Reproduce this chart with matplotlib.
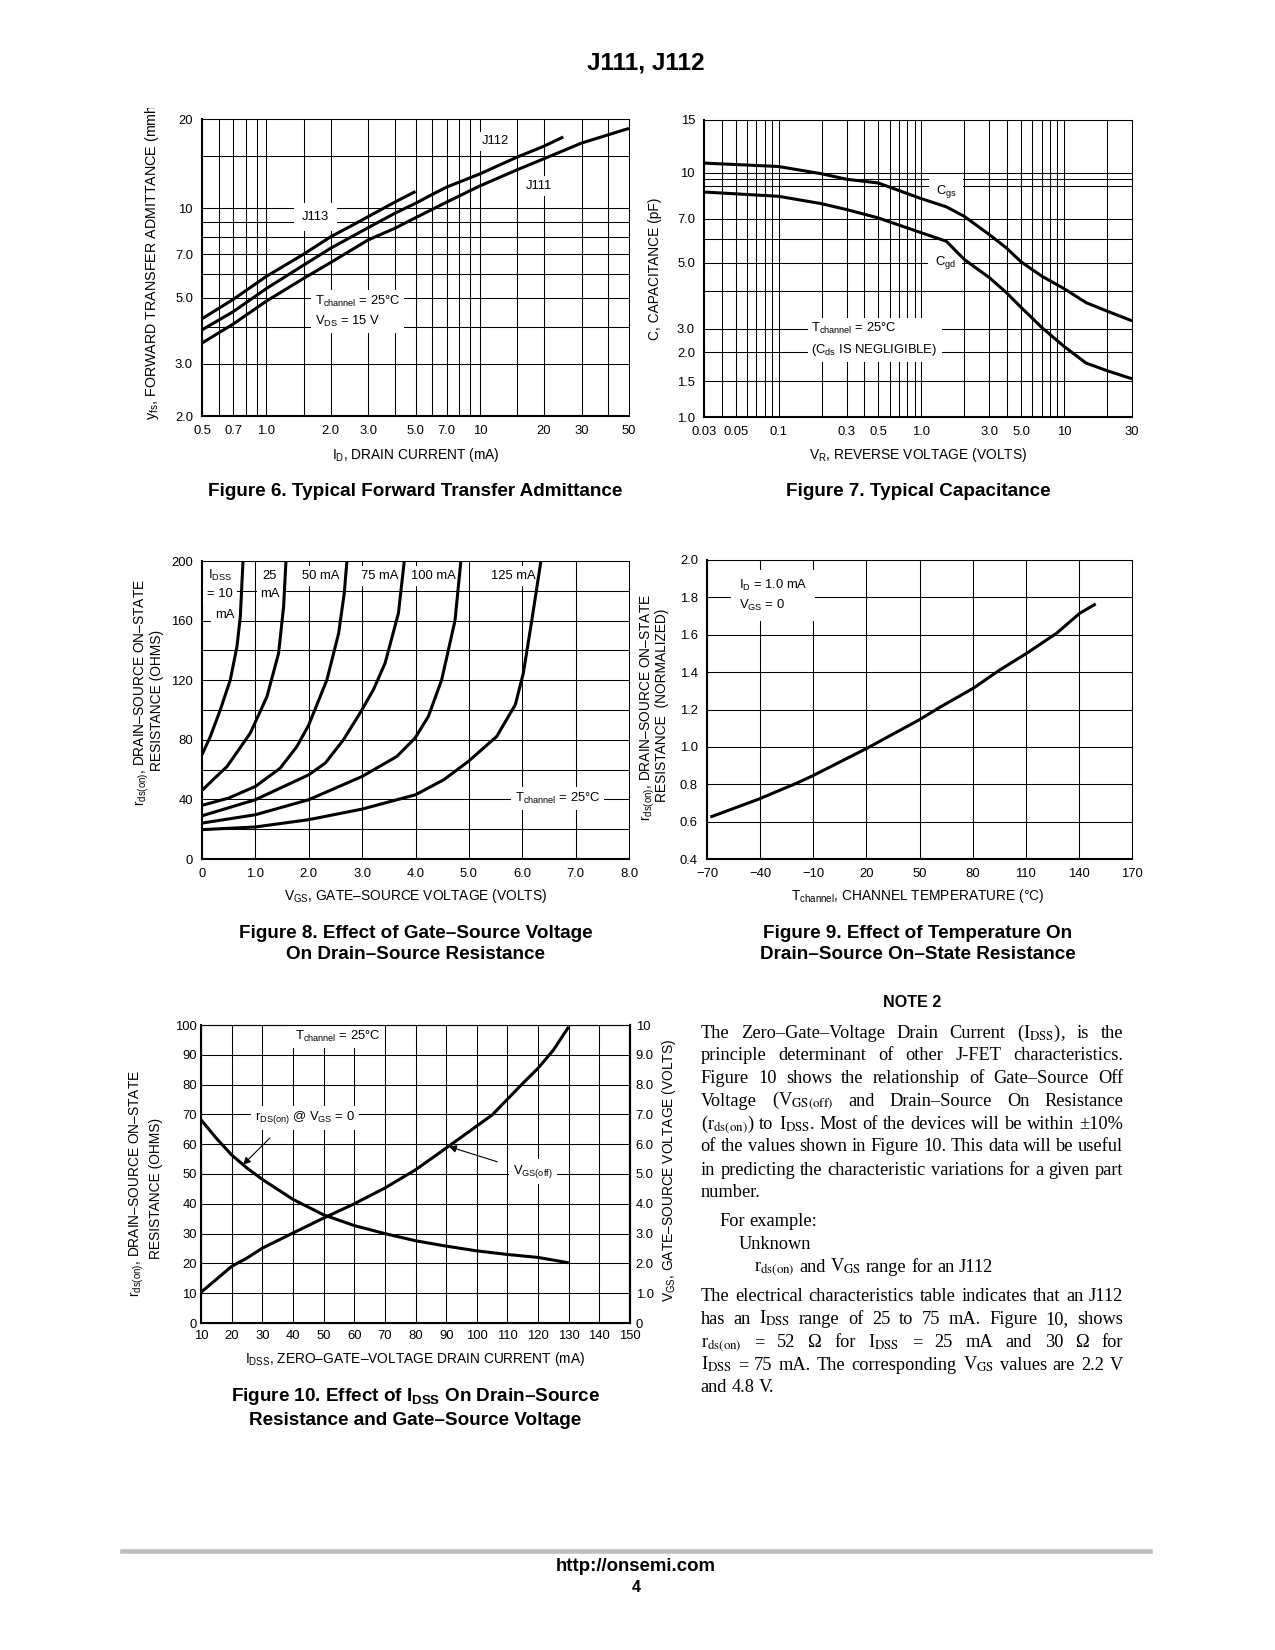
import numpy as np
import matplotlib
matplotlib.use("Agg")
import matplotlib.pyplot as plt
from matplotlib.lines import Line2D
from matplotlib.transforms import Bbox

W, H = 1275, 1650

plt.rcParams['font.family'] = ['Liberation Sans', 'DejaVu Sans']
plt.rcParams['mathtext.fontset'] = 'custom'
plt.rcParams['mathtext.rm'] = 'Liberation Sans'
plt.rcParams['mathtext.it'] = 'Liberation Sans:italic'
plt.rcParams['mathtext.bf'] = 'Liberation Sans:bold'

# Figura 6: yfs vs ID
id_j113 = [0.5, 0.7, 1.0, 1.5, 2.0, 2.55, 3.0, 4.0, 5.0]
yfs_j113 = [4.25, 4.94, 5.9, 7.02, 8.02, 8.8, 9.38, 10.5, 11.4]
id_j112 = [0.5, 0.7, 1.0, 1.5, 2.0, 3.0, 4.0, 5.0, 6.0, 7.0, 10, 15, 20, 24.6]
yfs_j112 = [3.9, 4.49, 5.37, 6.45, 7.34, 8.61, 9.63, 10.4, 11.15, 11.8, 13.06, 14.9, 16.2, 17.4]
id_j111 = [0.5, 0.7, 1.0, 1.5, 2.0, 3.0, 4.0, 5.0, 7.0, 10, 15, 20, 30, 50]
yfs_j111 = [3.52, 4.08, 4.87, 5.82, 6.57, 7.83, 8.57, 9.3, 10.5, 11.9, 13.5, 14.7, 16.6, 18.6]

# Figura 7: capacidad vs VR
vr_gs = [0.03, 0.1, 0.2, 0.3, 0.5, 1.0, 1.5, 2.0, 3.0, 3.94, 5.0, 7.0, 10, 14.3, 20, 30]
c_gs = [10.76, 10.48, 9.91, 9.5, 9.23, 8.18, 7.68, 7.14, 6.2, 5.6, 5.03, 4.5, 4.09, 3.67, 3.44, 3.19]
vr_gd = [0.03, 0.1, 0.2, 0.3, 0.5, 1.0, 1.5, 2.0, 3.0, 3.94, 5.0, 7.0, 10, 14.3, 20, 30]
c_gd = [8.61, 8.33, 7.87, 7.52, 7.05, 6.29, 5.89, 5.12, 4.45, 3.97, 3.54, 3.03, 2.22, 1.80, 1.67, 1.54]

# Figura 8: rds(on) vs VGS para cada IDSS
vgs_10 = [0, 0.156, 0.343, 0.53, 0.655, 0.718, 0.768]
rds_10 = [70, 82.2, 100.1, 120.2, 142.6, 162.7, 200]
vgs_25 = [0, 0.218, 0.47, 0.905, 1.217, 1.435, 1.529, 1.573]
rds_25 = [46, 53.6, 62.1, 84.5, 109, 138.1, 169.4, 200]
vgs_50 = [0, 0.5, 1.0, 1.466, 1.778, 2.0, 2.34, 2.56, 2.665, 2.715]
rds_50 = [36, 40.9, 48.7, 61, 75.5, 90, 120.2, 151.5, 178.3, 200]
vgs_75 = [0, 1.0, 2.0, 2.31, 2.65, 2.96, 3.21, 3.43, 3.68, 3.79]
rds_75 = [29, 39.8, 56.5, 64.4, 80, 97.9, 113.5, 131.4, 164.9, 200]
vgs_100 = [0, 1.0, 2.0, 3.0, 3.65, 3.99, 4.24, 4.49, 4.74, 4.85]
rds_100 = [24.1, 29.7, 39.8, 55.4, 68.8, 81.1, 95.6, 120.2, 160, 200]
vgs_125 = [0, 1.0, 2.0, 3.0, 4.0, 4.53, 4.99, 5.52, 5.87, 6.02, 6.18, 6.35]
rds_125 = [19.7, 21.5, 26.4, 33.5, 43.1, 53.2, 65.5, 82.2, 103.5, 124.7, 160.4, 200]

# Figura 9: rds normalizada vs temperatura
temp = [-68.1, -40.9, -19.3, -10.4, 19.8, 49.9, 60.6, 80.4, 95.4, 110.4, 127.4, 140.5, 149.5]
rds_norm = [0.6245, 0.72, 0.806, 0.845, 0.99, 1.145, 1.207, 1.314, 1.412, 1.50, 1.608, 1.715, 1.765]

# Figura 10: rds y VGS(off) vs IDSS
idss_r = [10, 15, 20, 25, 30, 40, 50, 60, 70, 80, 90, 100, 110, 120, 130]
rds_idss = [68.2, 62, 56.4, 52, 48.2, 41.5, 36.3, 32.7, 30.0, 27.6, 25.8, 24.2, 23, 22, 20.2]
idss_v = [10, 20, 25, 30, 40, 50, 60, 70, 80, 90, 100, 105, 110, 115, 120, 125, 130]
vgs_off = [1.03, 1.90, 2.18, 2.51, 3.02, 3.52, 4.0, 4.53, 5.14, 5.87, 6.61, 6.98, 7.51, 8.04, 8.55, 9.16, 9.94]

fig = plt.figure(figsize=(W / 100, H / 100), dpi=100)

TICK = 9.4
LAB = 9.9
CAP = 13.6
LW = 2.2
BOX = dict(boxstyle='square,pad=0.3', fc='white', ec='none')


def ejes(l, t, r, b):
    ax = fig.add_axes([l / W, 1 - b / H, (r - l) / W, (b - t) / H])
    for s in ['top', 'right']:
        ax.spines[s].set_linewidth(0.75)
    for s in ['left', 'bottom']:
        ax.spines[s].set_linewidth(1.5)
    ax.tick_params(which='both', length=0, pad=6.5, labelsize=TICK)
    return ax


def grilla(ax):
    ax.grid(True, which='both', color='k', lw=0.75)


def curva(ax, xs, ys):
    ax.plot(xs, ys, 'k', lw=LW, solid_joinstyle='round', solid_capstyle='butt', zorder=4)


def ftext(x, y, s, **kw):
    return fig.text(x / W, 1 - y / H, s, **kw)


# ------- Figura 6 -------
ax6 = ejes(202, 119, 629, 416)
ax6.set_xscale('log')
ax6.set_yscale('log')
ax6.set_xlim(0.5, 50)
ax6.set_ylim(2, 20)
ax6.set_xticks([0.5, 0.7, 1, 2, 3, 5, 7, 10, 20, 30, 50],
               ['0.5', '0.7', '1.0', '2.0', '3.0', '5.0', '7.0', '10', '20', '30', '50'])
ax6.set_xticks([0.6, 0.8, 0.9, 1.5, 4, 6, 8, 9, 15, 40], minor=True)
ax6.set_yticks([2, 3, 5, 7, 10, 20], ['2.0', '3.0', '5.0', '7.0', '10', '20'])
ax6.set_yticks([4, 6, 8, 9, 15], minor=True)
ax6.xaxis.set_minor_formatter(plt.NullFormatter())
ax6.yaxis.set_minor_formatter(plt.NullFormatter())
grilla(ax6)
curva(ax6, id_j113, yfs_j113)
curva(ax6, id_j112, yfs_j112)
curva(ax6, id_j111, yfs_j111)
ax6.text(11.8, 16.8, 'J112', ha='center', va='center', fontsize=TICK, bbox=BOX)
ax6.text(18.9, 11.9, 'J111', ha='center', va='center', fontsize=TICK, bbox=BOX)
ax6.text(1.70, 9.37, 'J113', ha='center', va='center', fontsize=TICK,
         bbox=dict(boxstyle='square,pad=0.6', fc='white', ec='none'))
ax6.text(1.69, 4.5, 'T$_{\\mathrm{channel}}$ = 25°C\nV$_{\\mathrm{DS}}$ = 15 V', ha='left', va='center',
         fontsize=TICK, linespacing=1.5, bbox=BOX)
yl = ftext(152, 420, 'y$_{\\mathrm{fs}}$, FORWARD TRANSFER ADMITTANCE (mmhos)', rotation=90,
           ha='center', va='bottom', fontsize=10.3)
yl.set_clip_box(Bbox.from_extents(0, 0, W, H - 108))
yl.set_clip_on(True)
ftext(415.5, 455.5, 'I$_{\\mathrm{D}}$, DRAIN CURRENT (mA)', ha='center', va='center', fontsize=LAB)
ftext(415.5, 492, 'Figure 6. Typical Forward Transfer Admittance', ha='center', va='center',
      fontsize=CAP, fontweight='bold')

# ------- Figura 7 -------
# eje vertical del original: logaritmico arriba, comprimido por debajo de 3.0
LOGV = np.log10([1.0, 1.5, 2.0, 3.0, 15.0])
POS = -np.array([417.3, 381.7, 352.7, 329.0, 120.0])


def fwd(v):
    return np.interp(np.log10(np.clip(v, 1e-3, None)), LOGV, POS)


def inv(p):
    return 10 ** np.interp(p, POS, LOGV)


ax7 = ejes(704, 120, 1132, 417)
ax7.set_xscale('log')
ax7.set_yscale('function', functions=(fwd, inv))
ax7.set_xlim(0.03, 30)
ax7.set_ylim(1, 15)
ax7.set_xticks([0.03, 0.05, 0.1, 0.3, 0.5, 1, 3, 5, 10, 30],
               ['0.03', '0.05', '0.1', '0.3', '0.5', '1.0', '3.0', '5.0', '10', '30'])
ax7.set_xticks([0.04, 0.06, 0.07, 0.08, 0.09, 0.2, 0.4, 0.6, 0.7, 0.8, 0.9,
                2, 4, 6, 7, 8, 9, 20], minor=True)
ax7.set_yticks([1, 1.5, 2, 3, 5, 7, 10, 15], ['1.0', '1.5', '2.0', '3.0', '5.0', '7.0', '10', '15'])
ax7.set_yticks([4, 6, 9, 9.5], minor=True)
ax7.xaxis.set_minor_formatter(plt.NullFormatter())
ax7.yaxis.set_minor_formatter(plt.NullFormatter())
grilla(ax7)
curva(ax7, vr_gs, c_gs)
curva(ax7, vr_gd, c_gd)
ax7.text(1.5, 8.66, 'C$_{\\mathrm{gs}}$', ha='center', va='center', fontsize=TICK,
         bbox=dict(boxstyle='square,pad=0.5', fc='white', ec='none'))
ax7.text(1.47, 4.99, 'C$_{\\mathrm{gd}}$', ha='center', va='center', fontsize=TICK,
         bbox=dict(boxstyle='square,pad=0.5', fc='white', ec='none'))
ax7.text(0.17, 2.5, 'T$_{\\mathrm{channel}}$ = 25°C\n(C$_{\\mathrm{ds}}$ IS NEGLIGIBLE)', ha='left',
         va='center', fontsize=TICK, linespacing=1.5, bbox=BOX)
ftext(655, 269, 'C, CAPACITANCE (pF)', rotation=90, ha='center', va='center', fontsize=LAB)
ftext(918, 455.5, 'V$_{\\mathrm{R}}$, REVERSE VOLTAGE (VOLTS)', ha='center', va='center', fontsize=LAB)
ftext(918, 492, 'Figure 7. Typical Capacitance', ha='center', va='center',
      fontsize=CAP, fontweight='bold')

# ------- Figura 8 -------
ax8 = ejes(202, 561, 629, 859)
ax8.set_xlim(0, 8)
ax8.set_ylim(0, 200)
ax8.set_xticks(np.arange(0, 9), ['0', '1.0', '2.0', '3.0', '4.0', '5.0', '6.0', '7.0', '8.0'])
ax8.set_yticks(np.arange(0, 201, 20), ['0', '', '40', '', '80', '', '120', '', '160', '', '200'])
grilla(ax8)
for xs, ys in [(vgs_10, rds_10), (vgs_25, rds_25), (vgs_50, rds_50),
               (vgs_75, rds_75), (vgs_100, rds_100), (vgs_125, rds_125)]:
    curva(ax8, xs, ys)
kw8 = dict(fontsize=TICK, va='center', bbox=BOX)
ax8.text(0.12, 190, 'I$_{\\mathrm{DSS}}$', ha='left', **kw8)
ax8.text(0.10, 177.7, '= 10', ha='left', **kw8)
ax8.text(0.24, 163.8, 'mA', ha='left', **kw8)
ax8.text(1.27, 190, '25', ha='center', **kw8)
ax8.text(1.28, 177.7, 'mA', ha='center', **kw8)
ax8.text(2.23, 190, '50 mA', ha='center', **kw8)
ax8.text(3.33, 190, '75 mA', ha='center', **kw8)
ax8.text(4.34, 190, '100 mA', ha='center', **kw8)
ax8.text(5.84, 190, '125 mA', ha='center', **kw8)
ax8.text(6.66, 40.9, 'T$_{\\mathrm{channel}}$ = 25°C', ha='center', **kw8)
ftext(142, 692, 'r$_{\\mathrm{ds(on)}}$, DRAIN–SOURCE ON–STATE', rotation=90, ha='center', va='center',
      fontsize=LAB)
ftext(157, 700, 'RESISTANCE (OHMS)', rotation=90, ha='center', va='center', fontsize=LAB)
ftext(415.5, 896, 'V$_{\\mathrm{GS}}$, GATE–SOURCE VOLTAGE (VOLTS)', ha='center', va='center', fontsize=LAB)
ftext(415.5, 944, 'Figure 8. Effect of Gate–Source Voltage\nOn Drain–Source Resistance', ha='center',
      va='center', fontsize=CAP, fontweight='bold', linespacing=1.33)

# ------- Figura 9 -------
ax9 = ejes(707, 560, 1132, 859)
ax9.set_xlim(-70, 170)
ax9.set_ylim(0.4, 2.0)
ax9.set_xticks(np.arange(-70, 171, 30), ['−70', '−40', '−10', '20', '50', '80', '110', '140', '170'])
ax9.set_yticks(np.arange(0.4, 2.01, 0.2), ['0.4', '0.6', '0.8', '1.0', '1.2', '1.4', '1.6', '1.8', '2.0'])
grilla(ax9)
curva(ax9, temp, rds_norm)
ax9.text(-52, 1.81, 'I$_{\\mathrm{D}}$ = 1.0 mA\nV$_{\\mathrm{GS}}$ = 0', ha='left', va='center',
         fontsize=TICK, linespacing=1.5, bbox=dict(boxstyle='square,pad=0.6', fc='white', ec='none'))
ftext(648, 707, 'r$_{\\mathrm{ds(on)}}$, DRAIN–SOURCE ON–STATE', rotation=90, ha='center', va='center',
      fontsize=LAB)
ftext(662, 705, 'RESISTANCE  (NORMALIZED)', rotation=90, ha='center', va='center', fontsize=LAB)
ftext(918, 896, 'T$_{\\mathrm{channel}}$, CHANNEL TEMPERATURE (°C)', ha='center', va='center', fontsize=LAB)
ftext(918, 944, 'Figure 9. Effect of Temperature On\nDrain–Source On–State Resistance', ha='center',
      va='center', fontsize=CAP, fontweight='bold', linespacing=1.33)

# ------- Figura 10 -------
ax10 = ejes(201, 1025, 630, 1323)
ax10.spines['right'].set_linewidth(1.5)
ax10.set_xlim(10, 150)
ax10.set_ylim(0, 100)
ax10.set_xticks(np.arange(10, 151, 10), [str(v) for v in range(10, 151, 10)])
ax10.set_yticks(np.arange(0, 101, 10), [str(v) for v in range(0, 101, 10)])
ax10.tick_params(axis='x', pad=5)
ax10.tick_params(axis='y', pad=3)
grilla(ax10)
curva(ax10, idss_r, rds_idss)
ax10b = ax10.twinx()
ax10b.set_ylim(0, 10)
ax10b.set_yticks(np.arange(0, 11), ['0', '1.0', '2.0', '3.0', '4.0', '5.0', '6.0', '7.0', '8.0', '9.0', '10'])
ax10b.tick_params(length=0, pad=4, labelsize=TICK)
ax10b.spines['right'].set_linewidth(1.5)
curva(ax10b, idss_v, vgs_off)
ax10.text(54.6, 96.1, 'T$_{\\mathrm{channel}}$ = 25°C', ha='center', va='center', fontsize=TICK, bbox=BOX)
ax10.text(44, 68.8, 'r$_{\\mathrm{DS(on)}}$ @ V$_{\\mathrm{GS}}$ = 0', ha='center', va='center',
          fontsize=TICK, bbox=BOX)
ax10.text(118.4, 50.7, 'V$_{\\mathrm{GS(off)}}$', ha='center', va='center', fontsize=TICK, bbox=BOX)
flecha = dict(arrowstyle='-|>', color='k', lw=0.8, mutation_scale=11, shrinkA=0, shrinkB=0)
ax10.annotate('', xy=(23.7, 53.1), xytext=(32.5, 62.1), arrowprops=flecha)
ax10.annotate('', xy=(90.9, 59.2), xytext=(106.7, 54.1), arrowprops=flecha)
ftext(137, 1183, 'r$_{\\mathrm{ds(on)}}$, DRAIN–SOURCE ON–STATE', rotation=90, ha='center', va='center',
      fontsize=LAB)
ftext(156, 1188, 'RESISTANCE (OHMS)', rotation=90, ha='center', va='center', fontsize=LAB)
ftext(669, 1170, 'V$_{\\mathrm{GS}}$, GATE–SOURCE VOLTAGE (VOLTS)', rotation=90, ha='center',
      va='center', fontsize=LAB)
ftext(415.5, 1359, 'I$_{\\mathrm{DSS}}$, ZERO–GATE–VOLTAGE DRAIN CURRENT (mA)', ha='center',
      va='center', fontsize=LAB)
ftext(415.5, 1407.5, 'Figure 10. Effect of I$_{\\mathbf{DSS}}$ On Drain–Source\nResistance and Gate–Source Voltage',
      ha='center', va='center', fontsize=CAP, fontweight='bold', linespacing=1.33)

# ------- Encabezado, nota y pie -------
ftext(646, 63, 'J111, J112', ha='center', va='center', fontsize=17.6, fontweight='bold')
ftext(912, 1002.5, 'NOTE 2', ha='center', va='center', fontsize=11.6, fontweight='bold')

SERIF = ['Liberation Serif', 'DejaVu Serif']
PS = 13.2
renderer = fig.canvas.get_renderer()
parrafo = [
    ('The Zero–Gate–Voltage Drain Current (I$_{\\mathrm{DSS}}$), is the', 'j', 700.7, 1038.3),
    ('principle determinant of other J-FET characteristics.', 'j', 700.7, 1060),
    ('Figure 10 shows the relationship of Gate–Source Off', 'j', 700.7, 1082.7),
    ('Voltage (V$_{\\mathrm{GS(off)}}$ and Drain–Source On Resistance', 'j', 700.7, 1105.7),
    ('(r$_{\\mathrm{ds(on)}}$) to I$_{\\mathrm{DSS}}$. Most of the devices will be within ±10%', 'j', 700.7, 1129.3),
    ('of the values shown in Figure 10. This data will be useful', 'j', 700.7, 1151),
    ('in predicting the characteristic variations for a given part', 'j', 700.7, 1175),
    ('number.', 'l', 700.7, 1196.7),
    ('For example:', 'l', 719.3, 1226),
    ('Unknown', 'l', 738.3, 1249.3),
    ('r$_{\\mathrm{ds(on)}}$ and V$_{\\mathrm{GS}}$ range for an J112', 'l', 754, 1271.7),
    ('The electrical characteristics table indicates that an J112', 'j', 700.7, 1300.7),
    ('has an I$_{\\mathrm{DSS}}$ range of 25 to 75 mA. Figure 10, shows', 'j', 700.7, 1324),
    ('r$_{\\mathrm{ds(on)}}$ = 52 Ω for I$_{\\mathrm{DSS}}$ = 25 mA and 30 Ω for', 'j', 700.7, 1347.3),
    ('I$_{\\mathrm{DSS}}$ = 75 mA. The corresponding V$_{\\mathrm{GS}}$ values are 2.2 V', 'j', 700.7, 1370),
    ('and 4.8 V.', 'l', 700.7, 1391.7),
]
X_DER = 1123.3
espacio = PS * 100 / 72 * 0.25
for linea, modo, x0, yb in parrafo:
    palabras = linea.split(' ')
    objs = [ftext(0, yb, p, fontsize=PS, family=SERIF, math_fontfamily='stix', va='baseline')
            for p in palabras]
    anchos = [o.get_window_extent(renderer).width for o in objs]
    if modo == 'j' and len(objs) > 1:
        gap = (X_DER - x0 - sum(anchos)) / (len(objs) - 1)
    else:
        gap = espacio
    x = x0
    for o, a in zip(objs, anchos):
        o.set_x(x / W)
        x += a + gap

fig.add_artist(Line2D([122 / W, 1150 / W], [1 - 1550.5 / H] * 2, color='#bfbfbf', lw=3.3))
ftext(636, 1566.7, 'http://onsemi.com', ha='center', va='center', fontsize=13.4, fontweight='bold')
ftext(636, 1588, '4', ha='center', va='center', fontsize=11.5, fontweight='bold')

fig.savefig('out.png', dpi=100)
